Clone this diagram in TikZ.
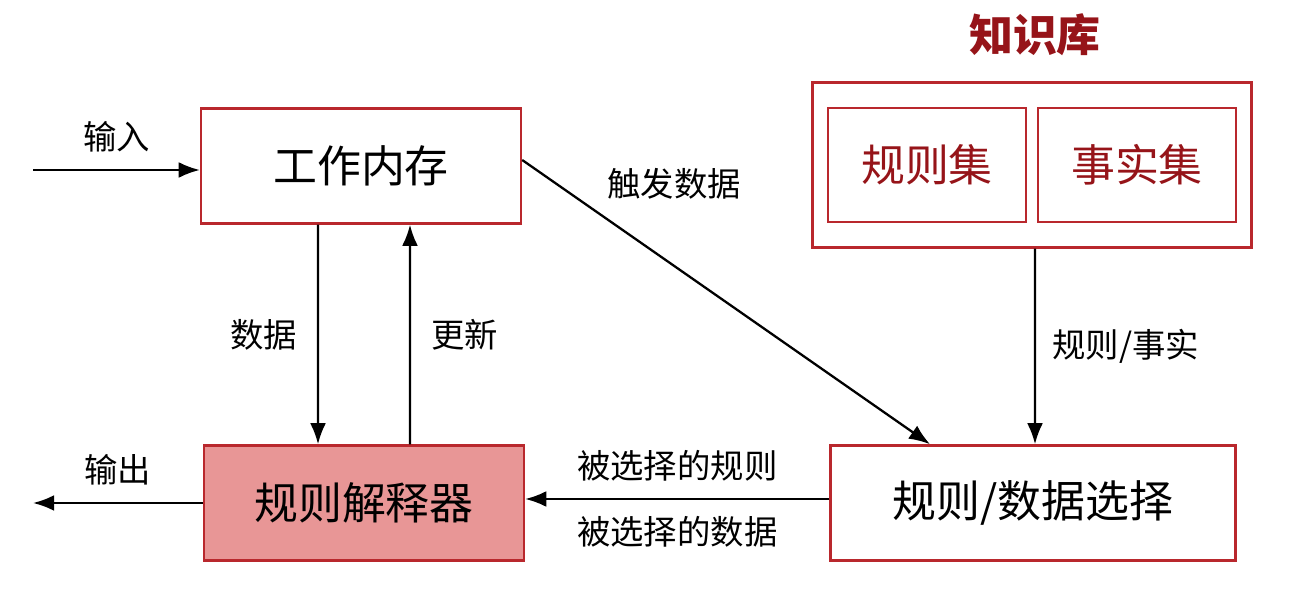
\documentclass[tikz,border=0pt]{standalone}
\usepackage{fontspec}
\setmainfont{Noto Sans CJK SC}
\usetikzlibrary{positioning,arrows.meta}
\definecolor{boxred}{RGB}{185,40,45}
\definecolor{darkred}{RGB}{150,20,25}
\definecolor{boxpink}{RGB}{232,150,150}
\tikzset{
  blk/.style={draw=boxred, line width=1.4pt, minimum width=6.4cm, minimum height=2.3cm, font=\fontsize{25}{30}\selectfont},
  inner/.style={draw=boxred, line width=1.4pt, minimum width=3.96cm, minimum height=2.28cm, font=\fontsize{25}{30}\selectfont, text=darkred},
  lbl/.style={font=\fontsize{19}{23}\selectfont},
  arr/.style={-{Latex[length=12pt,width=9pt]}, line width=1.3pt}
}
\begin{document}
\begin{tikzpicture}[x=0.02cm,y=-0.02cm]
	\useasboundingbox (0,0) rectangle (1294,590);
	% main blocks
	\node[blk] (wm) at (361,166) {工作内存};
	\node[blk, fill=boxpink] (interp) at (364,503) {规则解释器};
	\node[blk, minimum width=8.1cm] (sel) at (1033,503) {规则/数据选择};
	% knowledge base
	\node[draw=boxred, line width=1.4pt, minimum width=8.78cm, minimum height=3.3cm] (kb) at (1032,165) {};
	\node[inner] (rules) at (927,165) {规则集};
	\node[inner] (facts) at (1137,165) {事实集};
	\node[font=\fontsize{25}{30}\selectfont\bfseries, text=darkred] (kbt) at (1035,35) {知识库};
	% connectors
	\coordinate (in) at (33,170);
	\coordinate (out) at (33,503);
	\draw[arr] (in) -- (wm.west |- in) node[lbl, midway, above=6pt] {输入};
	\draw[arr] (interp.west) -- (out) node[lbl, midway, above=6pt] {输出};
	\draw[arr] ([xshift=-0.86cm]wm.south) -- ([xshift=-0.92cm]interp.north) node[lbl, midway, left=8pt] {数据};
	\draw[arr] ([xshift=0.92cm]interp.north) -- ([xshift=0.98cm]wm.south) node[lbl, midway, right=8pt] {更新};
	\draw[arr] ([yshift=0.12cm]wm.east) -- ([xshift=-2.06cm]sel.north) node[lbl, pos=0.18, above right=4pt] {触发数据};
	\draw[arr] ([xshift=0.06cm]kb.south) -- ([xshift=0.04cm]sel.north) node[lbl, midway, right=6pt] {规则/事实};
	\draw[arr] ([yshift=0.08cm]sel.west) -- ([yshift=0.08cm]interp.east)
		node[lbl, midway, above=6pt] {被选择的规则}
		node[lbl, midway, below=6pt] {被选择的数据};
\end{tikzpicture}
\end{document}
